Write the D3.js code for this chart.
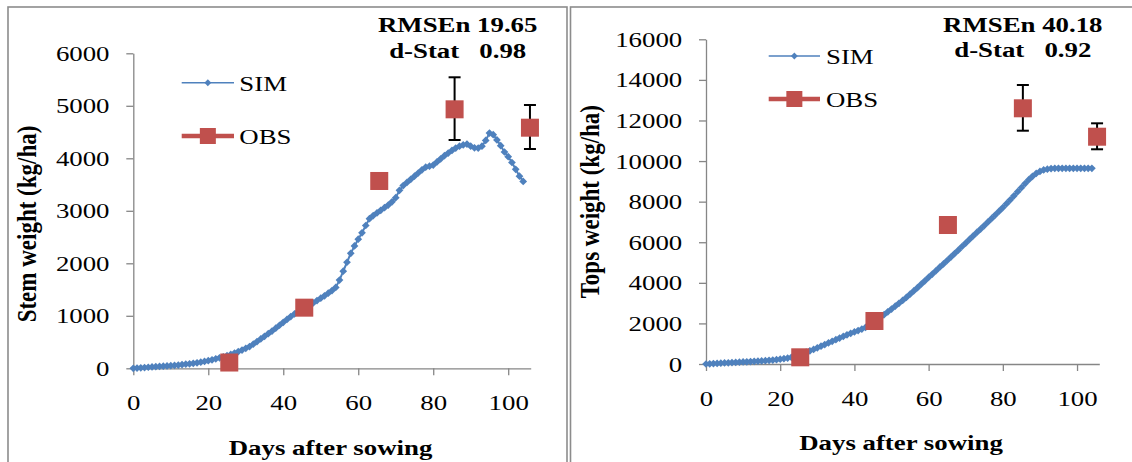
<!DOCTYPE html>
<html>
<head>
<meta charset="utf-8">
<script src="https://cdn.jsdelivr.net/npm/d3@7"></script>
<style>
  body { margin: 0; background: #fff; }
  svg { display: block; }
  text { font-family: "Liberation Serif", "Times New Roman", serif; fill: #000; }
</style>
</head>
<body>
<div id="chart"></div>
<script>
// values
const xTicks = [0, 20, 40, 60, 80, 100]
const stemTicks = [0, 1000, 2000, 3000, 4000, 5000, 6000]
const topsTicks = [0, 2000, 4000, 6000, 8000, 10000, 12000, 14000, 16000]

// simulated, one value per day after sowing (day 0 .. 104)
const stemSim = [
  0, 5, 10, 15, 20, 25, 30, 35, 40, 45,
  50, 55, 62, 70, 78, 86, 95, 105, 116, 130,
  146, 162, 180, 200, 220, 240, 265, 290, 318, 348,
  380, 415, 460, 510, 560, 610, 660, 710, 765, 820,
  875, 930, 985, 1035, 1080, 1120, 1160, 1200, 1245, 1290,
  1335, 1380, 1430, 1480, 1540, 1680, 1850, 2020, 2190, 2330,
  2460, 2580, 2720, 2850, 2910, 2960, 3010, 3060, 3110, 3170,
  3250, 3390, 3480, 3540, 3600, 3660, 3720, 3780, 3830, 3850,
  3870, 3930, 3990, 4050, 4100, 4150, 4195, 4230, 4255, 4270,
  4230, 4200, 4195, 4230, 4340, 4480, 4450, 4350, 4240, 4120,
  4030, 3920, 3790, 3660, 3560
]
const topsSim = [
  0, 10, 20, 30, 40, 50, 60, 70, 80, 90,
  100, 110, 120, 130, 140, 150, 165, 180, 195, 215,
  235, 260, 290, 330, 380, 440, 510, 580, 650, 720,
  800, 880, 960, 1040, 1120, 1200, 1280, 1360, 1440, 1510,
  1580, 1650, 1720, 1800, 1900, 2020, 2150, 2290, 2430, 2570,
  2710, 2850, 2990, 3130, 3280, 3440, 3600, 3760, 3930, 4100,
  4270, 4430, 4600, 4770, 4930, 5100, 5270, 5440, 5610, 5790,
  5960, 6140, 6310, 6480, 6650, 6820, 7000, 7170, 7350, 7530,
  7710, 7900, 8090, 8290, 8490, 8690, 8890, 9080, 9250, 9390,
  9490, 9560, 9600, 9630, 9640, 9640, 9640, 9640, 9640, 9640,
  9640, 9640, 9640, 9640, 9640
]

// observed
const stemObsDay = [25.6, 45.6, 65.6, 85.7, 105.8]
const stemObs = [110, 1155, 3568, 4933, 4583]
const stemErrHi = [null, null, null, 5543, 5015]
const stemErrLo = [null, null, null, 4349, 4177]

const topsObsDay = [25.4, 45.4, 65.2, 85.4, 105.4]
const topsObs = [330, 2119, 6849, 12600, 11200]
const topsErrHi = [null, null, null, 13748, 11860]
const topsErrLo = [null, null, null, 11496, 10580]

const W = 1132, H = 462
const SX = 1.22          // the text in the figure is drawn wide
const blue = '#4F81BD', red = '#C0504D', axisGrey = '#868686'

const svg = d3.select('#chart').append('svg')
    .attr('width', W)
    .attr('height', H)

svg.append('rect').attr('width', W).attr('height', H).attr('fill', '#fff')

// panel frames
svg.append('rect')
    .attr('x', 8).attr('y', 7).attr('width', 559).attr('height', 480)
    .attr('fill', 'none').attr('stroke', '#8c8c8c').attr('stroke-width', 1.6)
svg.append('rect')
    .attr('x', 570.5).attr('y', 7).attr('width', 600).attr('height', 480)
    .attr('fill', 'none').attr('stroke', '#8c8c8c').attr('stroke-width', 1.6)

const panels = [
  {
    sim: stemSim, obsDay: stemObsDay, obs: stemObs, hi: stemErrHi, lo: stemErrLo,
    yTicks: stemTicks, yMax: 6000,
    xr: [133.3, 530.7], yr: [368.3, 53.3],
    yTitle: 'Stem weight (kg/ha)', yTitlePos: [36, 224],
    xTitlePos: [330.5, 455],
    stats: ['RMSEn 19.65', 'd-Stat   0.98'], statX: 457.7, statY: [31.7, 58.3],
    leg: {x0: 181.7, x1: 234, ySim: 82.7, yObs: 136, tx: 239.3}
  },
  {
    sim: topsSim, obsDay: topsObsDay, obs: topsObs, hi: topsErrHi, lo: topsErrLo,
    yTicks: topsTicks, yMax: 16000,
    xr: [706, 1099.3], yr: [364, 39.3],
    yTitle: 'Tops weight (kg/ha)', yTitlePos: [598.7, 201.7],
    xTitlePos: [901, 450],
    stats: ['RMSEn 40.18', 'd-Stat   0.92'], statX: 1022.8, statY: [31.7, 57.3],
    leg: {x0: 768.7, x1: 820, ySim: 56, yObs: 99, tx: 826}
  }
]

const diamond = d3.symbol(d3.symbolSquare, 30)
const legDiamond = d3.symbol(d3.symbolSquare, 24)

panels.forEach(p => {
  const x = d3.scaleLinear().domain([0, 106]).range(p.xr)
  const y = d3.scaleLinear().domain([0, p.yMax]).range(p.yr)

  // axes
  const gx = svg.append('g')
      .attr('transform', `translate(0, ${p.yr[0]})`)
      .call(d3.axisBottom(x).tickValues(xTicks).tickFormat(d3.format('d'))
          .tickSize(7).tickSizeOuter(0).tickPadding(19))
  const gy = svg.append('g')
      .attr('transform', `translate(${p.xr[0]}, 0)`)
      .call(d3.axisLeft(y).tickValues(p.yTicks).tickFormat(d3.format('d'))
          .tickSize(7).tickSizeOuter(0).tickPadding(12.5))

  ;[gx, gy].forEach(g => {
    g.select('.domain').attr('stroke', axisGrey).attr('stroke-width', 1.3)
    g.selectAll('.tick line').attr('stroke', axisGrey).attr('stroke-width', 1.3)
    g.selectAll('.tick text')
        .attr('font-family', '"Liberation Serif", serif')
        .attr('font-size', 22)
        .attr('fill', '#111')
        .attr('transform', `scale(${SX},1)`)
  })

  // simulated series
  svg.append('path')
      .datum(p.sim)
      .attr('fill', 'none')
      .attr('stroke', blue)
      .attr('stroke-width', 2)
      .attr('d', d3.line().x((d, i) => x(i)).y(d => y(d)))

  svg.append('g').selectAll('path')
      .data(p.sim)
      .join('path')
      .attr('d', diamond)
      .attr('fill', blue)
      .attr('transform', (d, i) => `translate(${x(i)}, ${y(d)}) rotate(45)`)

  // observed: error bars then squares
  const obs = p.obs.map((v, i) => ({day: p.obsDay[i], v, hi: p.hi[i], lo: p.lo[i]}))
  const eb = svg.append('g').selectAll('g')
      .data(obs.filter(d => d.hi != null))
      .join('g')
      .attr('stroke', '#000')
      .attr('stroke-width', 2)
  eb.append('line')
      .attr('x1', d => x(d.day)).attr('x2', d => x(d.day))
      .attr('y1', d => y(d.hi)).attr('y2', d => y(d.lo))
  eb.append('line')
      .attr('x1', d => x(d.day) - 6).attr('x2', d => x(d.day) + 6)
      .attr('y1', d => y(d.hi)).attr('y2', d => y(d.hi))
  eb.append('line')
      .attr('x1', d => x(d.day) - 6).attr('x2', d => x(d.day) + 6)
      .attr('y1', d => y(d.lo)).attr('y2', d => y(d.lo))

  svg.append('g').selectAll('rect')
      .data(obs)
      .join('rect')
      .attr('x', d => x(d.day) - 9)
      .attr('y', d => y(d.v) - 9)
      .attr('width', 18)
      .attr('height', 18)
      .attr('fill', red)

  // legend
  const L = p.leg
  svg.append('line')
      .attr('x1', L.x0).attr('x2', L.x1).attr('y1', L.ySim).attr('y2', L.ySim)
      .attr('stroke', blue).attr('stroke-width', 1.5)
  svg.append('path')
      .attr('d', legDiamond)
      .attr('fill', blue)
      .attr('transform', `translate(${(L.x0 + L.x1) / 2}, ${L.ySim}) rotate(45)`)
  svg.append('line')
      .attr('x1', L.x0).attr('x2', L.x1).attr('y1', L.yObs).attr('y2', L.yObs)
      .attr('stroke', red).attr('stroke-width', 4.5)
  svg.append('rect')
      .attr('x', (L.x0 + L.x1) / 2 - 8).attr('y', L.yObs - 8)
      .attr('width', 16).attr('height', 16)
      .attr('fill', red)
  svg.append('text')
      .attr('transform', `translate(${L.tx}, ${L.ySim + 8}) scale(${SX},1)`)
      .attr('font-size', 22)
      .text('SIM')
  svg.append('text')
      .attr('transform', `translate(${L.tx}, ${L.yObs + 7.5}) scale(${SX},1)`)
      .attr('font-size', 22)
      .text('OBS')

  // statistics
  p.stats.forEach((s, i) => {
    svg.append('text')
        .attr('transform', `translate(${p.statX}, ${p.statY[i]}) scale(${SX},1)`)
        .attr('text-anchor', 'middle')
        .attr('font-size', 22)
        .attr('font-weight', 'bold')
        .style('white-space', 'pre')
        .text(s)
  })

  // axis titles
  svg.append('text')
      .attr('transform', `translate(${p.xTitlePos[0]}, ${p.xTitlePos[1]}) scale(${SX},1)`)
      .attr('text-anchor', 'middle')
      .attr('font-size', 22)
      .attr('font-weight', 'bold')
      .text('Days after sowing')

  svg.append('text')
      .attr('transform', `translate(${p.yTitlePos[0]}, ${p.yTitlePos[1]}) scale(${SX},1) rotate(-90)`)
      .attr('text-anchor', 'middle')
      .attr('font-size', 23)
      .attr('font-weight', 'bold')
      .text(p.yTitle)
})
</script>
</body>
</html>
